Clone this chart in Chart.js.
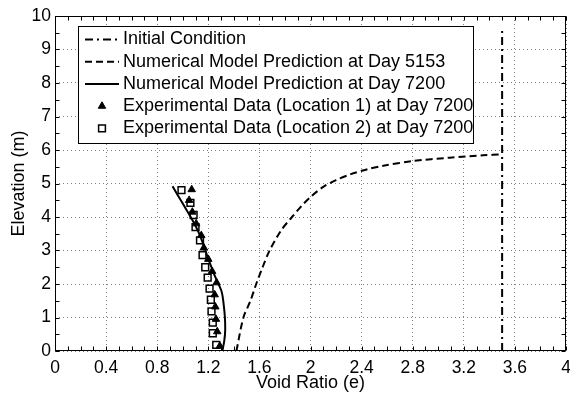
<!DOCTYPE html>
<html>
<head>
  <meta charset="utf-8" />
  <title>Void Ratio vs Elevation</title>
  <style>
    html, body { margin: 0; padding: 0; background: #fff; }
  </style>
</head>
<body>
  <canvas id="stage" width="570" height="394"></canvas>

  <script src="https://cdn.jsdelivr.net/npm/chart.js@4.4.0/dist/chart.umd.min.js"></script>
  <script>
    // Initial condition (vertical line at e = 3.5)
    const initE = [3.5, 3.5];
    const initZ = [0, 9.55];

    // Numerical model, day 5153
    const day5153E = [1.42, 1.475, 1.53, 1.575, 1.625, 1.68, 1.77, 1.855, 1.93, 2.0, 2.1, 2.2, 2.31, 2.44, 2.57, 2.8, 3.09, 3.35, 3.5];
    const day5153Z = [0.0, 1.0, 1.5, 2.0, 2.5, 3.0, 3.6, 4.0, 4.33, 4.60, 4.90, 5.10, 5.27, 5.42, 5.53, 5.67, 5.77, 5.84, 5.87];

    // Numerical model, day 7200
    const day7200E = [0.92, 1.00, 1.07, 1.12, 1.16, 1.195, 1.225, 1.25, 1.28, 1.306, 1.32, 1.33, 1.332, 1.325, 1.31];
    const day7200Z = [4.92, 4.40, 3.95, 3.58, 3.20, 2.80, 2.50, 2.25, 2.0, 1.75, 1.40, 1.0, 0.6, 0.3, 0.0];

    // Experimental data, location 1 (triangles)
    const loc1E = [1.07, 1.05, 1.075, 1.105, 1.145, 1.165, 1.20, 1.23, 1.265, 1.25, 1.255, 1.26, 1.27, 1.29];
    const loc1Z = [4.82, 4.50, 4.15, 3.80, 3.45, 3.08, 2.74, 2.38, 2.04, 1.68, 1.32, 0.95, 0.58, 0.15];

    // Experimental data, location 2 (squares)
    const loc2E = [0.99, 1.06, 1.085, 1.10, 1.135, 1.155, 1.176, 1.195, 1.21, 1.22, 1.225, 1.235, 1.235, 1.262];
    const loc2Z = [4.80, 4.42, 4.06, 3.70, 3.30, 2.86, 2.50, 2.19, 1.86, 1.53, 1.18, 0.85, 0.53, 0.18];

    const xTicksMin = 0, xTicksMax = 4, xStep = 0.4;
    const yTicksMin = 0, yTicksMax = 10, yStep = 1;

    const pts = (xs, ys) => xs.map((v, i) => ({ x: v, y: ys[i] }));

    Chart.defaults.font.family = "'Liberation Sans', Arial, sans-serif";
    Chart.defaults.color = '#000';

    // box, inward ticks and the legend box inside the plot
    const frame = {
      id: 'frame',
      afterDraw(chart) {
        const { ctx, chartArea: a, scales: { x, y } } = chart;
        const L = Math.round(a.left) + 0.5, R = Math.round(a.right) - 0.5;
        const T = Math.round(a.top) + 0.5, B = Math.round(a.bottom) - 0.5;
        ctx.save();
        ctx.strokeStyle = '#000';
        ctx.lineWidth = 1;
        ctx.beginPath();
        for (let i = 0; i <= 40; i++) {
          const px = Math.round(x.getPixelForValue(i / 10)) + 0.5;
          ctx.moveTo(px, B); ctx.lineTo(px, B - 4);
          ctx.moveTo(px, T); ctx.lineTo(px, T + 4);
        }
        for (let i = 0; i <= 20; i++) {
          const py = Math.round(y.getPixelForValue(i / 2)) + 0.5;
          ctx.moveTo(L, py); ctx.lineTo(L + 4, py);
          ctx.moveTo(R, py); ctx.lineTo(R - 4, py);
        }
        ctx.stroke();
        ctx.strokeRect(L, T, R - L, B - T);

        // legend
        const lx = 78.5, ly = 26.5, lw = 395, lh = 117;
        ctx.fillStyle = '#fff';
        ctx.fillRect(lx, ly, lw, lh);
        ctx.strokeRect(lx, ly, lw, lh);
        chart.data.datasets.forEach((ds, i) => {
          const cy = 39.5 + i * 22.2;
          if (ds.showLine) {
            ctx.setLineDash(ds.borderDash || []);
            ctx.lineWidth = ds.borderWidth;
            ctx.strokeStyle = ds.borderColor;
            ctx.beginPath();
            ctx.moveTo(85, cy);
            ctx.lineTo(119, cy);
            ctx.stroke();
            ctx.setLineDash([]);
          } else {
            ctx.fillStyle = ds.backgroundColor;
            ctx.strokeStyle = ds.borderColor;
            ctx.lineWidth = ds.pointBorderWidth;
            Chart.helpers.drawPoint(ctx, {
              pointStyle: ds.pointStyle, radius: ds.pointRadius, rotation: 0, borderWidth: ds.pointBorderWidth
            }, 102, cy);
          }
          ctx.fillStyle = '#000';
          ctx.font = "18px 'Liberation Sans', Arial, sans-serif";
          ctx.textBaseline = 'middle';
          ctx.textAlign = 'left';
          ctx.fillText(ds.label, 123, cy);
        });
        ctx.restore();
      }
    };

    new Chart(document.getElementById('stage'), {
      type: 'scatter',
      data: {
        datasets: [{
          label: 'Initial Condition',
          data: pts(initE, initZ),
          showLine: true,
          borderColor: '#000',
          borderWidth: 2,
          borderDash: [8, 4, 2, 4],
          pointRadius: 0
        }, {
          label: 'Numerical Model Prediction at Day 5153',
          data: pts(day5153E, day5153Z),
          showLine: true,
          tension: 0.3,
          borderColor: '#000',
          borderWidth: 2,
          borderDash: [7, 4],
          pointRadius: 0
        }, {
          label: 'Numerical Model Prediction at Day 7200',
          data: pts(day7200E, day7200Z),
          showLine: true,
          tension: 0.35,
          borderColor: '#000',
          borderWidth: 2,
          pointRadius: 0
        }, {
          label: 'Experimental Data (Location 1) at Day 7200',
          data: pts(loc1E, loc1Z),
          showLine: false,
          pointStyle: 'triangle',
          pointRadius: 4.3,
          pointBorderWidth: 1,
          backgroundColor: '#000',
          borderColor: '#000'
        }, {
          label: 'Experimental Data (Location 2) at Day 7200',
          data: pts(loc2E, loc2Z),
          showLine: false,
          pointStyle: 'rect',
          pointRadius: 4.8,
          pointBorderWidth: 1.5,
          backgroundColor: 'rgba(0,0,0,0)',
          borderColor: '#000'
        }]
      },
      options: {
        responsive: false,
        animation: false,
        layout: { autoPadding: false, padding: { top: 16, right: 4, left: 0, bottom: 0 } },
        plugins: { legend: { display: false }, tooltip: { enabled: false } },
        scales: {
          x: {
            type: 'linear',
            min: xTicksMin, max: xTicksMax,
            afterFit: s => { s.height = 43; s.paddingLeft = 0; s.paddingRight = 0; },
            ticks: {
              stepSize: xStep, padding: 7, maxRotation: 0, font: { size: 17.5 },
              callback: v => String(+v.toFixed(1))
            },
            grid: { color: '#808080', drawTicks: false },
            border: { display: false, dash: [1, 3] },
            title: { display: true, text: 'Void Ratio (e)', font: { size: 18 }, padding: { bottom: 0, top: 0 } }
          },
          y: {
            type: 'linear',
            min: yTicksMin, max: yTicksMax,
            afterFit: s => { s.width = 55; s.paddingTop = 0; s.paddingBottom = 0; },
            ticks: { stepSize: yStep, padding: 4, font: { size: 17.5 } },
            grid: { color: '#808080', drawTicks: false },
            border: { display: false, dash: [1, 3] },
            title: { display: true, text: 'Elevation (m)', font: { size: 18 }, padding: { top: 8 } }
          }
        }
      },
      plugins: [frame]
    });
  </script>
</body>
</html>
